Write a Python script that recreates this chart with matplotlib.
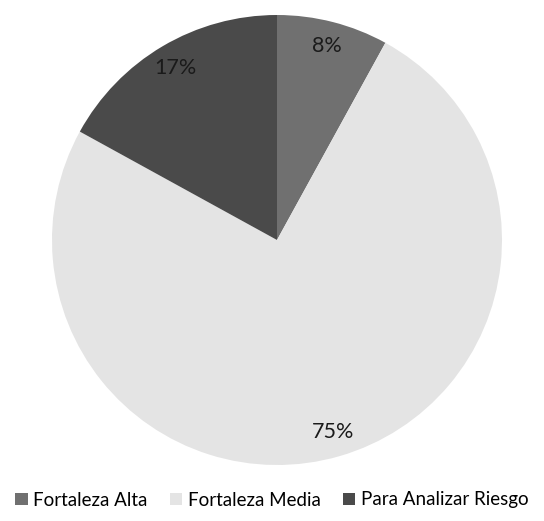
import matplotlib
matplotlib.use('Agg')
import matplotlib.pyplot as plt

# Distribucion de fortalezas
labels = ['Fortaleza Alta', 'Fortaleza Media', 'Para Analizar Riesgo']
values = [8, 75, 17]
colors = ['#707070', '#e4e4e4', '#4a4a4a']

plt.rcParams['font.family'] = ['Lato', 'DejaVu Sans']

fig = plt.figure(figsize=(5.44, 5.21), dpi=100)
# pie centred at about (277, 240) px, radius ~225 px
ax = fig.add_axes([52 / 544, 1 - 465 / 521, 450 / 544, 450 / 521])

wedges, texts, autotexts = ax.pie(
    values, colors=colors, startangle=90, counterclock=False,
    autopct='%1.0f%%', pctdistance=0.89,
    textprops={'fontsize': 15.5, 'color': '#1a1a1a'})
ax.set_xlim(-1, 1)
ax.set_ylim(-1, 1)
ax.set_aspect('equal')

fig.legend(wedges, labels, loc='center', bbox_to_anchor=(0.5, 1 - 500 / 521),
           ncol=3, frameon=False, fontsize=13.5, handlelength=0.65, handleheight=0.65,
           handletextpad=0.3, columnspacing=1.2)

fig.savefig('out.png', dpi=100)
